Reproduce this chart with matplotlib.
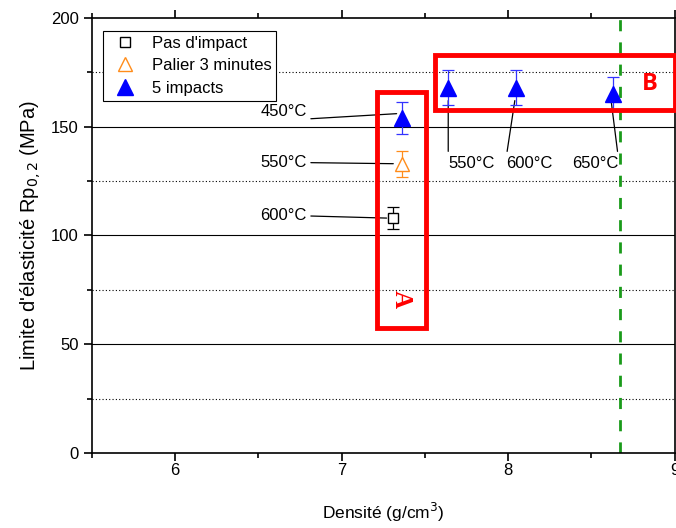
import matplotlib.pyplot as plt
from matplotlib.lines import Line2D
from matplotlib.patches import Rectangle
from matplotlib.ticker import MultipleLocator

plt.rcParams['font.family'] = ['Liberation Sans', 'DejaVu Sans']

# Pas d'impact
x_pas = [7.31]
y_pas = [108]
e_pas = [5]

# Palier 3 minutes
x_pal = [7.36]
y_pal = [133]
e_pal = [6]

# 5 impacts
x_imp = [7.36, 7.64, 8.05, 8.63]
y_imp = [154, 168, 168, 165]
e_imp = [7.5, 8, 8, 8]

x_ref = 8.67  # green dashed line

fig = plt.figure(figsize=(6.76, 5.28), dpi=100)
ax = fig.add_axes([0.136, 0.142, 0.862, 0.824])

ax.set_xlim(5.5, 9)
ax.set_ylim(0, 200)

for y in [50, 100, 150]:
    ax.axhline(y, color='black', lw=0.8, zorder=1)
for y in [25, 75, 125, 175]:
    ax.axhline(y, color='black', lw=0.8, ls=(0, (1, 2)), zorder=1)

ax.axvline(x_ref, color='#1a9a1a', lw=2, ls=(0, (4, 4)), zorder=2)

eb = dict(elinewidth=0.9, capsize=4, capthick=0.9, zorder=4)
ax.errorbar(x_pas, y_pas, yerr=e_pas, fmt='s', ms=7.5, mfc='white', mec='black',
            ecolor='black', **eb)
ax.errorbar(x_pal, y_pal, yerr=e_pal, fmt='^', ms=10, mfc='white', mec='#ff8c1a',
            ecolor='#ff8c1a', **eb)
ax.errorbar(x_imp, y_imp, yerr=e_imp, fmt='^', ms=11, mfc='blue', mec='blue',
            ecolor='#3333ff', **eb)

# annotations
def note(txt, xy, xytext, ha, relpos):
    ax.annotate(txt, xy=xy, xytext=xytext, ha=ha, va='center', fontsize=12,
                arrowprops=dict(arrowstyle='-', color='black', lw=0.9,
                                relpos=relpos, shrinkA=1, shrinkB=0))

note('450°C', (x_imp[0] - 0.03, y_imp[0] + 2), (6.79, 157), 'right', (1, 0))
note('550°C', (x_pal[0] - 0.05, y_pal[0]), (6.79, 133.5), 'right', (1, 0.5))
note('600°C', (x_pas[0] - 0.04, y_pas[0]), (6.79, 109), 'right', (1, 0.5))
note('550°C', (x_imp[1], y_imp[1] - 6), (7.64, 133.3), 'left', (0, 1))
note('600°C', (x_imp[2] - 0.01, y_imp[2] - 6), (7.99, 133.3), 'left', (0, 1))
note('650°C', (x_imp[3] - 0.01, y_imp[3] - 4), (8.66, 133.3), 'right', (1, 1))

# red boxes
ax.add_patch(Rectangle((7.21, 57.5), 0.295, 108.5, fill=False, ec='red', lw=3.5,
                       zorder=5, clip_on=False))
ax.add_patch(Rectangle((7.56, 157.5), 1.44, 25.5, fill=False, ec='red', lw=3.5,
                       zorder=5, clip_on=False))
ax.text(7.36, 71, 'A', color='red', fontsize=18, fontweight='bold', rotation=-90,
        ha='center', va='center', family=['Liberation Serif', 'DejaVu Serif'])
ax.text(8.85, 169.5, 'B', color='red', fontsize=17, fontweight='bold',
        ha='center', va='center', family=['Open Sans', 'DejaVu Sans'])

ax.xaxis.set_major_locator(MultipleLocator(1))
ax.xaxis.set_minor_locator(MultipleLocator(0.5))
ax.yaxis.set_major_locator(MultipleLocator(50))
ax.yaxis.set_minor_locator(MultipleLocator(25))
ax.tick_params(which='major', direction='out', length=6, width=1.2, labelsize=12,
               top=True, right=False)
ax.tick_params(which='minor', direction='out', length=3.5, width=1.2, top=True)
ax.tick_params(axis='x', pad=1)
for s in ax.spines.values():
    s.set_linewidth(1.2)

ax.set_xlabel('Densité (g/cm$^3$)', fontsize=12.5, labelpad=17)
ax.set_ylabel('Limite d\'élasticité Rp$_{0,2}$ (MPa)', fontsize=14.5, labelpad=6)

handles = [
    Line2D([], [], ls='none', marker='s', ms=7.5, mfc='white', mec='black'),
    Line2D([], [], ls='none', marker='^', ms=10, mfc='white', mec='#ff8c1a'),
    Line2D([], [], ls='none', marker='^', ms=11, mfc='blue', mec='blue'),
]
labels = ["Pas d'impact", 'Palier 3 minutes', '5 impacts']
leg = ax.legend(handles, labels, loc='upper left', bbox_to_anchor=(0.005, 0.99),
                fontsize=12, frameon=True, fancybox=False, edgecolor='black',
                framealpha=1, handletextpad=0.6, borderpad=0.3, labelspacing=0.45,
                handlelength=2)
leg.get_frame().set_linewidth(0.8)
leg.set_zorder(6)

fig.savefig('out.png', dpi=100)
